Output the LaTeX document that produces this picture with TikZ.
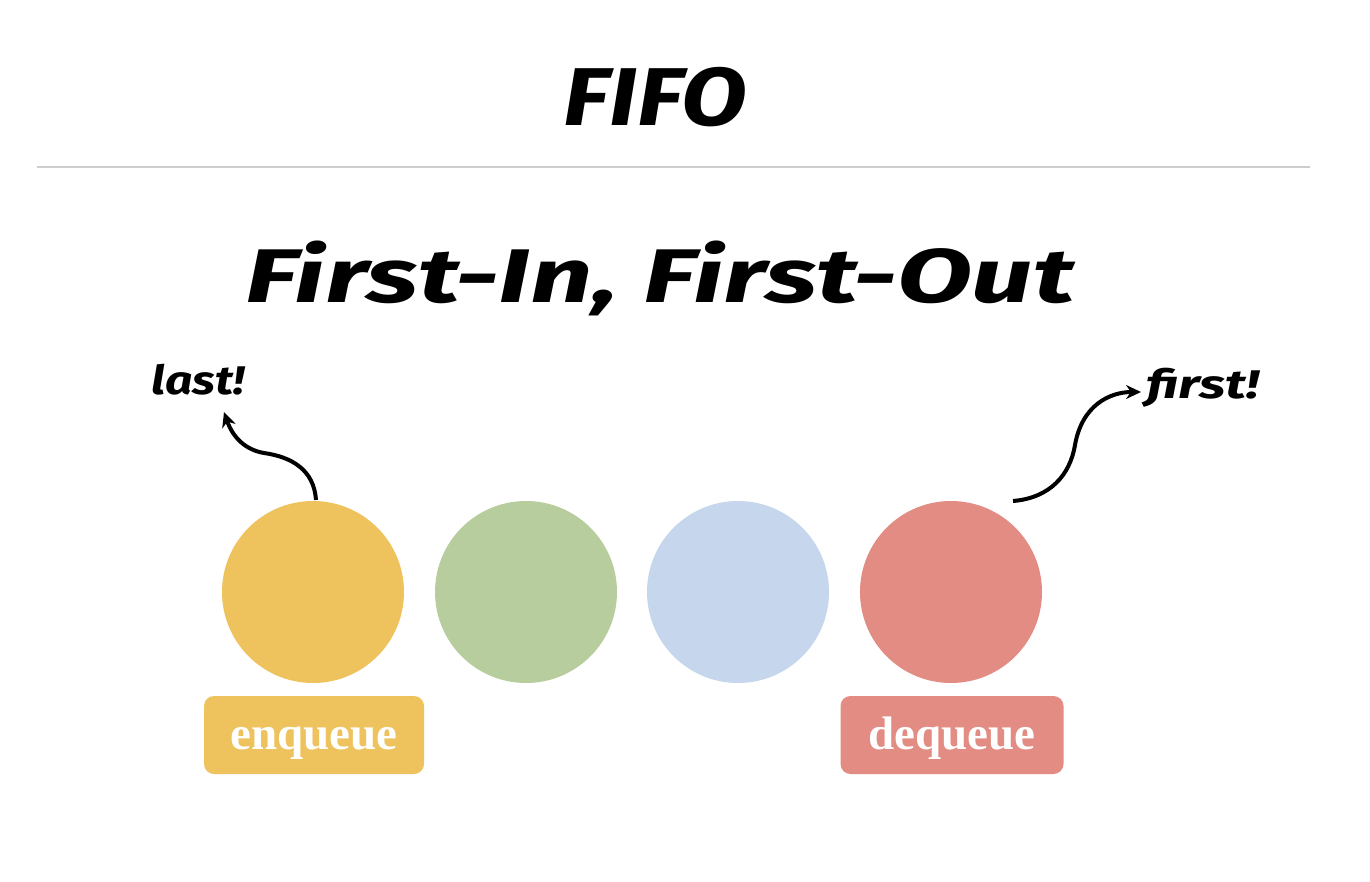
\documentclass[tikz,border=0pt]{standalone}
\usepackage{fontspec}
\setmainfont{Fira Sans}
\newfontfamily\hand{Fira Sans}
\newfontfamily\labelfont{Liberation Serif}
\usetikzlibrary{arrows.meta}
\definecolor{cyellow}{RGB}{238,195,93}
\definecolor{cgreen}{RGB}{184,205,157}
\definecolor{cblue}{RGB}{198,214,236}
\definecolor{cred}{RGB}{226,140,132}
\definecolor{rulegray}{RGB}{205,205,205}
\begin{document}
\begin{tikzpicture}[x=1pt,y=-1pt,
  ball/.style={circle,minimum size=182pt,inner sep=0pt,draw=none},
  tagbox/.style={rounded corners=10pt,minimum width=220pt,minimum height=78pt,inner sep=0pt},
  tagtext/.style={anchor=base,inner sep=0pt,text=white,font=\labelfont\bfseries\fontsize{47}{52}\selectfont},
  handtext/.style={inner sep=0pt,font=\hand\bfseries\itshape},
  curvy/.style={line width=4pt,-{Stealth[length=15pt,width=14pt]}}]
\useasboundingbox (0,0) rectangle (1370,882);
\fill[white] (0,0) rectangle (1370,882);
\node[handtext,font=\hand\bfseries\itshape\fontsize{82}{90}\selectfont] (title) at (655,97) {\scalebox{1.17}[1]{FIFO}};
\coordinate (ruleL) at (37,167);
\coordinate (ruleR) at (1310,167);
\draw[rulegray,line width=2.5pt] (ruleL) -- (ruleR);
\node[handtext,font=\hand\bfseries\itshape\fontsize{76}{84}\selectfont] (sub) at (660,278) {\scalebox{1.44}[1]{First-In, First-Out}};
\node[ball,fill=cyellow] (b1) at (313,592) {};
\node[ball,fill=cgreen] (b2) at (526,592) {};
\node[ball,fill=cblue] (b3) at (738,592) {};
\node[ball,fill=cred] (b4) at (951,592) {};
\node[tagbox,fill=cyellow] (enq) at (314,735) {};
\node[tagbox,fill=cred,minimum width=223pt] (deq) at (952,735) {};
\node[tagtext] (enqT) at (314,749) {enqueue};
\node[tagtext] (deqT) at (952,749) {dequeue};
\node[handtext,font=\hand\bfseries\itshape\fontsize{40}{44}\selectfont] (last) at (198,380) {\scalebox{1.2}[1]{last!}};
\node[handtext,font=\hand\bfseries\itshape\fontsize{40}{44}\selectfont] (first) at (1203,388) {\scalebox{1.38}[1]{first!}};
\coordinate (lastStart) at (316,500);
\coordinate (lastTip) at (224,412);
\coordinate (firstStart) at (1013,501);
\coordinate (firstTip) at (1141,392);
\draw[curvy] (lastStart) .. controls (314,470) and (292,457) .. (264,453)
  .. controls (246,450) and (233,438) .. (lastTip);
\draw[curvy] (firstStart) .. controls (1050,498) and (1070,475) .. (1075,445)
  .. controls (1082,405) and (1110,392) .. (firstTip);
\end{tikzpicture}
\end{document}
